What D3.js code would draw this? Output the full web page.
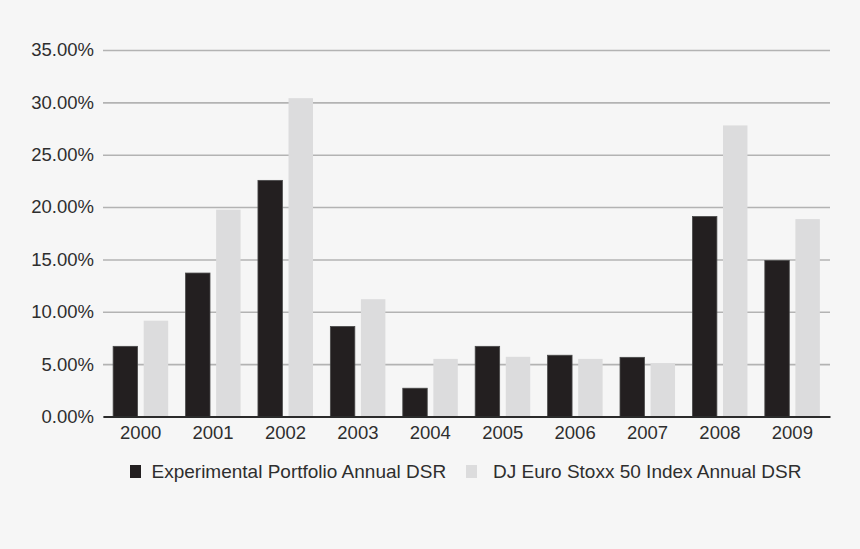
<!DOCTYPE html>
<meta charset="utf-8">
<script src="https://d3js.org/d3.v7.min.js"></script>
<style>
  body { margin: 0; background: #f6f6f6; }
  svg { display: block; }
</style>
<div id="my_dataviz"></div>
<script>
// data (annual DSR, %)
const years = ["2000", "2001", "2002", "2003", "2004", "2005", "2006", "2007", "2008", "2009"];
const seriesNames = ["Experimental Portfolio Annual DSR", "DJ Euro Stoxx 50 Index Annual DSR"];
const portfolio = [6.7, 13.7, 22.55, 8.6, 2.7, 6.7, 5.85, 5.65, 19.1, 14.9];
const euroStoxx = [9.15, 19.75, 30.4, 11.2, 5.5, 5.7, 5.5, 5.1, 27.8, 18.85];
const yTicks = [0, 5, 10, 15, 20, 25, 30, 35];
const colors = ["#231f20", "#dcdcdd"];

const W = 860, H = 549;
const margin = {top: 50, right: 30, bottom: 132.5, left: 103};
const width = W - margin.left - margin.right,
      height = H - margin.top - margin.bottom;

const svg = d3.select("#my_dataviz")
  .append("svg")
    .attr("width", W)
    .attr("height", H)
    .style("font-family", "'Liberation Sans', Arial, Helvetica, sans-serif");

svg.append("rect").attr("width", W).attr("height", H).attr("fill", "#f6f6f6");

const g = svg.append("g")
  .attr("transform", `translate(${margin.left}, ${margin.top})`);

// build rows from the arrays
const rows = years.map((yr, i) => ({year: yr, values: [portfolio[i], euroStoxx[i]]}));

const x0 = d3.scaleBand()
  .domain(years)
  .range([0, width])
  .paddingInner(0.24)
  .paddingOuter(0.14);

const x1 = d3.scaleBand()
  .domain([0, 1])
  .range([0, x0.bandwidth()])
  .paddingInner(0.2);

const y = d3.scaleLinear()
  .domain([0, 35])
  .range([height, 0]);

// gridlines + y labels
const yAxis = g.append("g")
  .call(d3.axisLeft(y)
    .tickValues(yTicks)
    .tickSize(-width)
    .tickPadding(9)
    .tickFormat(d => d.toFixed(2) + "%"));
yAxis.select(".domain").remove();
yAxis.selectAll(".tick line")
  .attr("stroke", "#b3b3b3")
  .attr("stroke-width", 1.6);
yAxis.selectAll(".tick text")
  .attr("fill", "#2e2e2e")
  .style("font-size", "18.5px");

// bars
const groups = g.selectAll("g.year")
  .data(rows)
  .join("g")
    .attr("class", "year")
    .attr("transform", d => `translate(${x0(d.year)}, 0)`);

groups.selectAll("rect")
  .data(d => d.values.map((v, k) => ({k: k, v: v})))
  .join("rect")
    .attr("x", d => x1(d.k))
    .attr("y", d => y(d.v))
    .attr("width", x1.bandwidth())
    .attr("height", d => y(0) - y(d.v))
    .attr("fill", d => colors[d.k])
    .attr("stroke", d => d.k === 0 ? "#4a4a4a" : "none")
    .attr("stroke-width", 0.8);

// x axis
const xAxis = g.append("g")
  .attr("transform", `translate(0, ${height})`)
  .call(d3.axisBottom(x0).tickSize(0).tickPadding(9));
xAxis.select(".domain")
  .attr("stroke", "#2b2b2b")
  .attr("stroke-width", 2.2);
xAxis.selectAll(".tick text")
  .attr("fill", "#2e2e2e")
  .style("font-size", "18.5px");

// legend
const legendX = [130, 466];
const legendGap = [21.5, 27];
const legend = svg.selectAll("g.legend")
  .data(seriesNames)
  .join("g")
    .attr("class", "legend")
    .attr("transform", (d, i) => `translate(${legendX[i]}, 465)`);

legend.append("rect")
  .attr("width", 11)
  .attr("height", 13)
  .attr("fill", (d, i) => colors[i]);

legend.append("text")
  .attr("x", (d, i) => legendGap[i])
  .attr("y", 12.8)
  .attr("fill", "#2e2e2e")
  .style("font-size", "19px")
  .text(d => d);
</script>
